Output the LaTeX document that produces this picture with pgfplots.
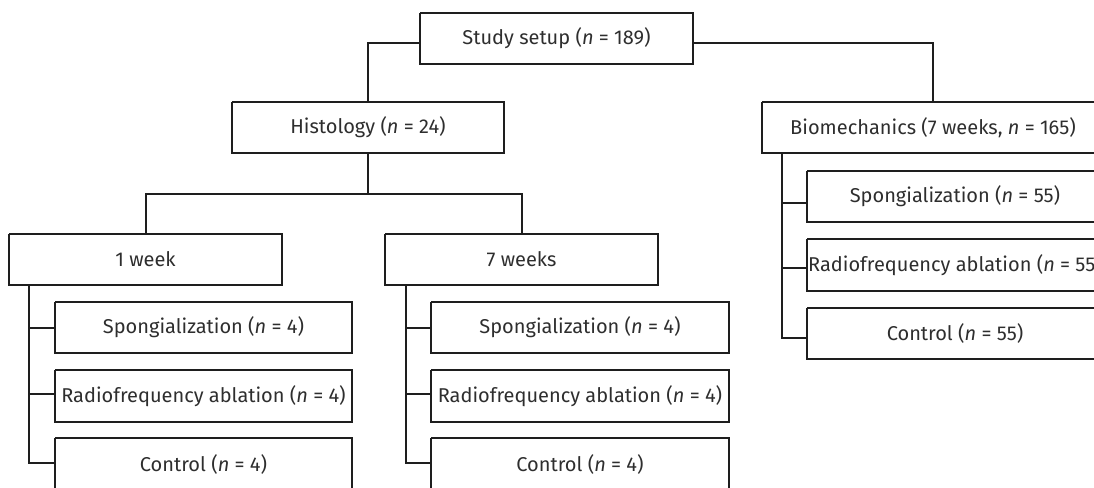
\documentclass[border=0pt]{standalone}
\usepackage{fontspec}
\setmainfont{Fira Sans}
\usepackage{pgfplots}
\pgfplotsset{compat=1.18}

\definecolor{linec}{HTML}{1E1E1E}
\definecolor{textc}{HTML}{2E2E2E}

% box: x1, y1, x2, y2, label (pixel units, y measured from the top)
\newcommand{\flowbox}[5]{%
  \addplot[boxline] coordinates {(#1,#2) (#3,#2) (#3,#4) (#1,#4) (#1,#2)};
  \node[textc] at (axis cs:{(#1+#3)/2},{(#2+#4)/2}) {#5};
}

\begin{document}
\begin{tikzpicture}
\begin{axis}[
    x=0.5pt, y=0.5pt,
    y dir=reverse,
    xmin=0, xmax=1094, ymin=0, ymax=488,
    hide axis,
    clip=true,
    boxline/.style={linec, line width=0.75pt, mark=none},
    every node/.style={font=\fontsize{10.7}{12}\selectfont},
]
    % connectors
    \addplot[boxline] coordinates {(420,43) (368,43) (368,102)};
    \addplot[boxline] coordinates {(693,43) (933,43) (933,102)};
    \addplot[boxline] coordinates {(368,153) (368,194)};
    \addplot[boxline] coordinates {(146,234) (146,194) (522,194) (522,234)};
    % 1 week branch
    \addplot[boxline] coordinates {(29,285) (29,463) (55,463)};
    \addplot[boxline] coordinates {(29,328) (55,328)};
    \addplot[boxline] coordinates {(29,394) (55,394)};
    % 7 weeks branch
    \addplot[boxline] coordinates {(406,285) (406,463) (431,463)};
    \addplot[boxline] coordinates {(406,328) (431,328)};
    \addplot[boxline] coordinates {(406,394) (431,394)};
    % biomechanics branch
    \addplot[boxline] coordinates {(782,153) (782,338) (807,338)};
    \addplot[boxline] coordinates {(782,203) (807,203)};
    \addplot[boxline] coordinates {(782,268) (807,268)};

    % boxes
    \flowbox{420}{13}{693}{64}{Study setup (\textit{n} = 189)}
    \flowbox{232}{102}{504}{153}{Histology (\textit{n} = 24)}
    \flowbox{762}{102}{1104}{153}{Biomechanics (7 weeks, \textit{n} = 165)}
    \flowbox{9}{234}{282}{285}{1 week}
    \flowbox{385}{234}{658}{285}{7 weeks}
    \flowbox{55}{302}{352}{353}{Spongialization (\textit{n} = 4)}
    \flowbox{55}{370}{352}{422}{Radiofrequency ablation (\textit{n} = 4)}
    \flowbox{55}{438}{352}{490}{Control (\textit{n} = 4)}
    \flowbox{431}{302}{729}{353}{Spongialization (\textit{n} = 4)}
    \flowbox{431}{370}{729}{422}{Radiofrequency ablation (\textit{n} = 4)}
    \flowbox{431}{438}{729}{490}{Control (\textit{n} = 4)}
    \flowbox{807}{171}{1103}{222}{Spongialization (\textit{n} = 55)}
    \flowbox{807}{239}{1103}{291}{Radiofrequency ablation (\textit{n} = 55)}
    \flowbox{807}{308}{1103}{359}{Control (\textit{n} = 55)}

    \coordinate (SW) at (axis cs:0,488);
    \coordinate (NE) at (axis cs:1094,0);
\end{axis}
\pgfresetboundingbox
\useasboundingbox (SW) rectangle (NE);
\end{tikzpicture}
\end{document}
